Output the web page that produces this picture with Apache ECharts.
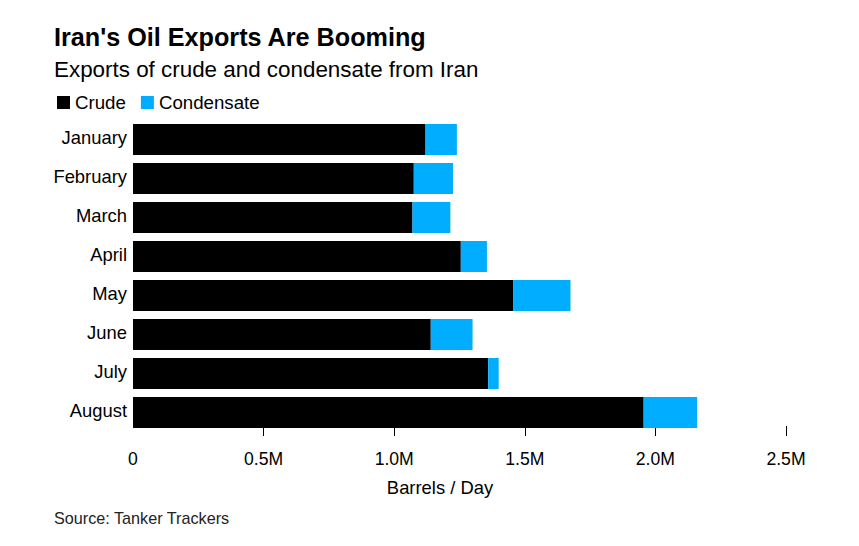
<!DOCTYPE html>
<html>
<head>
<meta charset="utf-8">
<style>
html, body { margin: 0; padding: 0; background: #fff; }
#chart { width: 859px; height: 546px; }
</style>
<script src="https://cdn.jsdelivr.net/npm/echarts@6/dist/echarts.min.js"></script>
</head>
<body>
<div id="chart"></div>
<script>
var months = ['January', 'February', 'March', 'April', 'May', 'June', 'July', 'August'];
var crude = [1.12, 1.075, 1.07, 1.255, 1.455, 1.14, 1.36, 1.955];
var condensate = [0.12, 0.15, 0.145, 0.10, 0.22, 0.16, 0.04, 0.205];
var tickValues = [0.5, 1, 1.5, 2, 2.5];
var tickLabels = { 0: '0', 0.5: '0.5M', 1: '1.0M', 1.5: '1.5M', 2: '2.0M', 2.5: '2.5M' };

var font = 'Arial, "Liberation Sans", sans-serif';
var chart = echarts.init(document.getElementById('chart'), null, { renderer: 'svg' });

chart.setOption({
    animation: false,
    textStyle: { fontFamily: font },
    title: [
        { text: "Iran's Oil Exports Are Booming", left: 49, top: 19, textStyle: { fontSize: 25.2, fontWeight: 'bold', color: '#000', fontFamily: font } },
        { text: 'Exports of crude and condensate from Iran', left: 49, top: 53, textStyle: { fontSize: 22.4, fontWeight: 'normal', color: '#000', fontFamily: font } },
        { text: 'Source: Tanker Trackers', left: 49, top: 505, textStyle: { fontSize: 16.2, fontWeight: 'normal', color: '#222', fontFamily: font } }
    ],
    legend: {
        left: 52,
        top: 88,
        itemWidth: 13,
        itemHeight: 13,
        itemGap: 15,
        icon: 'rect',
        textStyle: { fontSize: 18.7, color: '#000', padding: [0, 0, 0, 0] },
        data: ['Crude', 'Condensate']
    },
    grid: { left: 133, right: 73, top: 120, bottom: 114 },
    xAxis: {
        type: 'value',
        min: 0,
        max: 2.5,
        interval: 0.5,
        offset: -6,
        name: 'Barrels / Day',
        nameLocation: 'middle',
        nameGap: 52,
        nameTextStyle: { fontSize: 18.4, color: '#000', padding: [0, 39, 0, 0] },
        splitLine: { show: false },
        axisLine: { show: false },
        axisTick: { show: true, length: 10, customValues: tickValues, lineStyle: { color: '#000', width: 1 } },
        axisLabel: {
            fontSize: 17.6,
            color: '#000',
            margin: 24,
            formatter: function (v) { return tickLabels[v]; }
        }
    },
    yAxis: {
        type: 'category',
        inverse: true,
        data: months,
        axisLine: { show: false },
        axisTick: { show: false },
        axisLabel: { fontSize: 18.4, color: '#000', margin: 6, lineHeight: 4, verticalAlign: 'bottom' }
    },
    series: [
        { name: 'Crude', type: 'bar', stack: 'total', data: crude, barWidth: 31, itemStyle: { color: '#000' } },
        { name: 'Condensate', type: 'bar', stack: 'total', data: condensate, barWidth: 31, itemStyle: { color: '#00adff' } }
    ]
});
</script>
</body>
</html>
